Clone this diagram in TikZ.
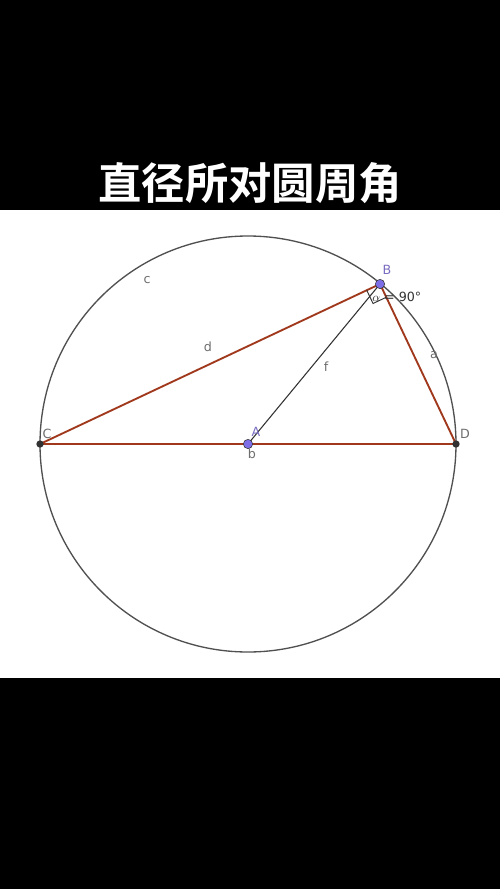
\documentclass[tikz,border=0pt]{standalone}
\usepackage{fontspec}
\setsansfont{DejaVu Sans}
\newfontfamily\cjkbold[BoldFont={Noto Sans CJK SC Bold}]{Noto Sans CJK SC Bold}
\usepackage{xcolor}
\usetikzlibrary{calc}

\definecolor{segred}{RGB}{160,56,28}
\definecolor{circgray}{RGB}{80,80,80}
\definecolor{lblgray}{RGB}{110,110,110}
\definecolor{ptblue}{RGB}{125,110,230}
\definecolor{ptdark}{RGB}{50,50,50}

\tikzset{
  chord/.style={color=segred, line width=1.4pt},
  radius line/.style={color=ptdark, line width=0.8pt},
  lbl/.style={inner sep=0.75pt, text=lblgray, font=\sffamily\fontsize{9.5}{10}\selectfont},
  freept/.style={circle, fill=ptblue, draw=ptdark, line width=0.4pt, inner sep=0pt, minimum size=7pt},
  fixpt/.style={circle, fill=ptdark, inner sep=0pt, minimum size=5.5pt}
}

\begin{document}
\begin{tikzpicture}[x=0.75pt,y=0.75pt,yscale=-1,xscale=1]
\useasboundingbox (0,0) rectangle (500,889);

%Background
\fill [black] (0,0) rectangle (500,889);
\fill [white] (0,210) rectangle (500,678);

%Points
\coordinate (A) at (248,444);
\coordinate (B) at (380,284);
\coordinate (C) at (40,444);
\coordinate (D) at (456,444);

%Circle c
\draw [color=circgray, line width=1pt] (A) circle [radius=208];

%Straight Lines
\draw [radius line] (A) -- (B);
\draw [chord] (C) -- (B);
\draw [chord] (B) -- (D);
\draw [chord] (C) -- (D);

%Right angle mark
\coordinate (bc) at ($(B)!11pt!(C)$);
\coordinate (bd) at ($(B)!11pt!(D)$);
\draw [color=ptdark, line width=0.7pt] (bc) -- ($(bc)+(bd)-(B)$) -- (bd);

%Dots
\node [fixpt] (Cpt) at (C) {};
\node [fixpt] (Dpt) at (D) {};
\node [freept] (Apt) at (A) {};
\node [freept] (Bpt) at (B) {};

% Title
\node [text=white, font=\cjkbold\fontsize{32.5}{33}\selectfont] (title) at (250,183) {直径所对圆周角};

% Text Node
\node [lbl, text=ptblue!70!lblgray] (Blbl) at (387,270) {B};
% Text Node
\node [lbl, text=ptblue!70!lblgray] (Albl) at (256,432) {A};
% Text Node
\node [lbl] (Clbl) at (47,434) {C};
% Text Node
\node [lbl] (Dlbl) at (465,434) {D};
% Text Node
\node [lbl] (blbl) at (252,454) {b};
% Text Node
\node [lbl] (clbl) at (147,280) {c};
% Text Node
\node [lbl] (dlbl) at (208,347) {d};
% Text Node
\node [lbl] (flbl) at (326,367) {f};
% Text Node
\node [lbl] (albl) at (434,355) {a};
% Text Node
\node [lbl, anchor=west, text=ptdark] (anglbl) at (371,297) {$\alpha$ = 90°};

\end{tikzpicture}
\end{document}
